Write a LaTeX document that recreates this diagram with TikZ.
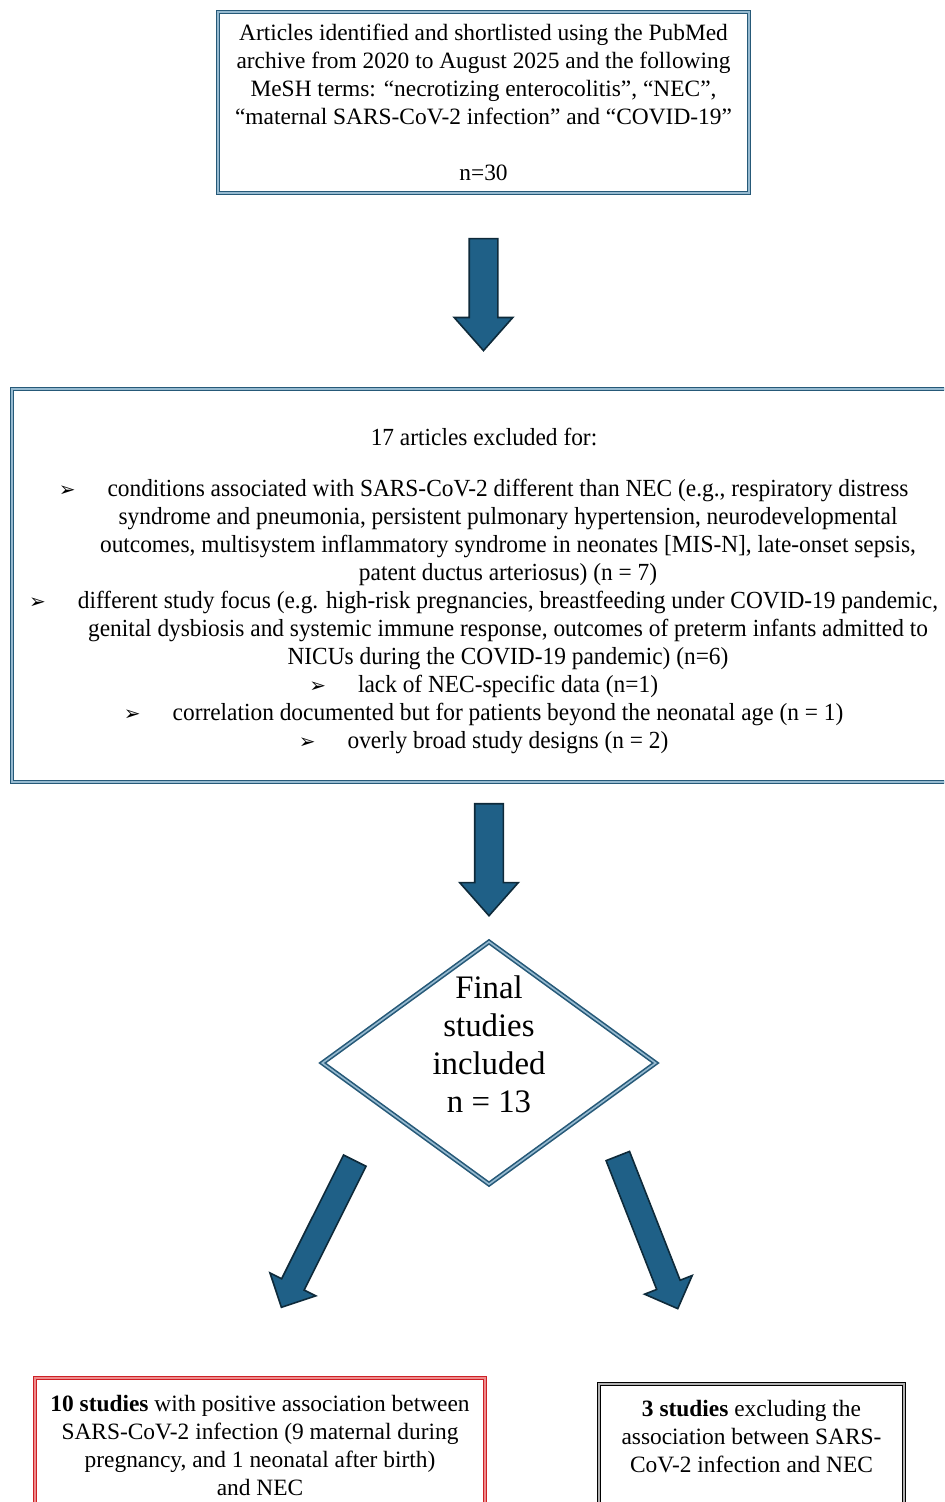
\documentclass[tikz,border=0pt]{standalone}
\usepackage{fontspec}
\setmainfont{Liberation Serif}
\newfontfamily\narrowfont[FakeStretch=0.95]{Liberation Serif}
\newfontfamily\bulletfont{DejaVu Sans}
\usetikzlibrary{shapes.geometric,shapes.arrows,calc}

\definecolor{boxblue}{RGB}{38,89,120}
\definecolor{boxlight}{RGB}{150,186,208}
\definecolor{arrowblue}{RGB}{31,96,135}
\definecolor{arrowline}{RGB}{14,42,58}
\definecolor{posred}{RGB}{205,32,38}
\definecolor{poslight}{RGB}{238,140,140}

% hanging bullet in front of a centred line
\newcommand{\bul}{\llap{{\bulletfont\fontsize{10}{10}\selectfont ➢}\hspace{16pt}}}

\tikzset{
  txt/.style={font=\fontsize{11.7}{14}\selectfont, align=center, inner sep=2pt},
  bluebox/.style={draw=boxblue, double=boxlight, double distance=0.8pt, line width=0.8pt, fill=white},
  blockarrow/.style={single arrow, draw=arrowline, fill=arrowblue, line width=0.8pt,
    inner xsep=0pt, sloped, allow upside down},
  vertarrow/.style={blockarrow, minimum height=56pt, minimum width=28.5pt, inner ysep=6.75pt,
    single arrow head extend=7.5pt, single arrow tip angle=83},
  diagarrow/.style={blockarrow, minimum height=82pt, minimum width=24.5pt, inner ysep=5.9pt,
    single arrow head extend=6.5pt, single arrow tip angle=90},
}

\begin{document}
\begin{tikzpicture}[x=0.5pt,y=-0.5pt]
  \useasboundingbox (0,0) rectangle (944,1502);
  \clip (0,0) rectangle (944,1502);

  % search
  \node[bluebox,txt,minimum width=265.5pt,minimum height=90.5pt] (search) at (483.5,102.5)
    {Articles identified and shortlisted using the PubMed\\
     archive from 2020 to August 2025 and the following\\
     MeSH terms: “necrotizing enterocolitis”, “NEC”,\\
     “maternal SARS-CoV-2 infection” and “COVID-19”\\[14pt]
     n=30};

  % exclusions
  \node[bluebox,txt,font=\narrowfont\fontsize{12.3}{14}\selectfont,
        minimum width=496pt,minimum height=196.5pt] (excl) at (508,585.5)
    {\rule{0pt}{14pt}17 articles excluded for:\hspace*{24pt}\\[11.5pt]
     \bul conditions associated with SARS-CoV-2 different than NEC (e.g., respiratory distress\\
     syndrome and pneumonia, persistent pulmonary hypertension, neurodevelopmental\\
     outcomes, multisystem inflammatory syndrome in neonates [MIS-N], late-onset sepsis,\\
     patent ductus arteriosus) (n = 7)\\
     \bul different study focus (e.g. high-risk pregnancies, breastfeeding under COVID-19 pandemic,\\
     genital dysbiosis and systemic immune response, outcomes of preterm infants admitted to\\
     NICUs during the COVID-19 pandemic) (n=6)\hspace*{37pt}\\
     \bul lack of NEC-specific data (n=1)\\
     \bul correlation documented but for patients beyond the neonatal age (n = 1)\\
     \bul overly broad study designs (n = 2)};

  % final
  \node[bluebox,diamond,minimum width=167pt,minimum height=121.5pt,inner sep=0pt] (final) at (489,1063) {};
  \node[font=\fontsize{16.4}{19}\selectfont,align=center] (finaltxt) at (final.center)
    {Final\\studies\\included\\n = 13\hspace*{8pt}\\\mbox{}};

  % results
  \node[txt,draw=posred,double=poslight,double distance=0.8pt,line width=0.8pt,
        minimum width=225pt,minimum height=67pt] (posbox) at (260,1445)
    {\textbf{10 studies} with positive association between\\
     SARS-CoV-2 infection (9 maternal during\\
     pregnancy, and 1 neonatal after birth)\\
     and NEC};
  \node[txt,draw=black,double=gray!60,double distance=0.8pt,line width=0.8pt,
        minimum width=152.5pt,minimum height=66pt] (negbox) at (751.5,1450)
    {\textbf{3 studies} excluding the\\
     association between SARS-\\
     CoV-2 infection and NEC\\\mbox{}};

  % arrows
  \path (search.south) -- node[vertarrow,pos=.477] (arrsearch) {} (search.south |- excl.north);
  \path (final.north |- excl.south) -- node[vertarrow,pos=.436] (arrexcl) {} (final.north);
  \path ($(final.west)!.36!(final.south)$) -- node[diagarrow,pos=.449] (arrpos) {}
    ($(posbox.north)!.06!(posbox.north west)$);
  \path ($(final.east)!.35!(final.south)$) -- node[diagarrow,pos=.435] (arrneg) {}
    ($(negbox.north)!.29!(negbox.north west)$);
\end{tikzpicture}
\end{document}
